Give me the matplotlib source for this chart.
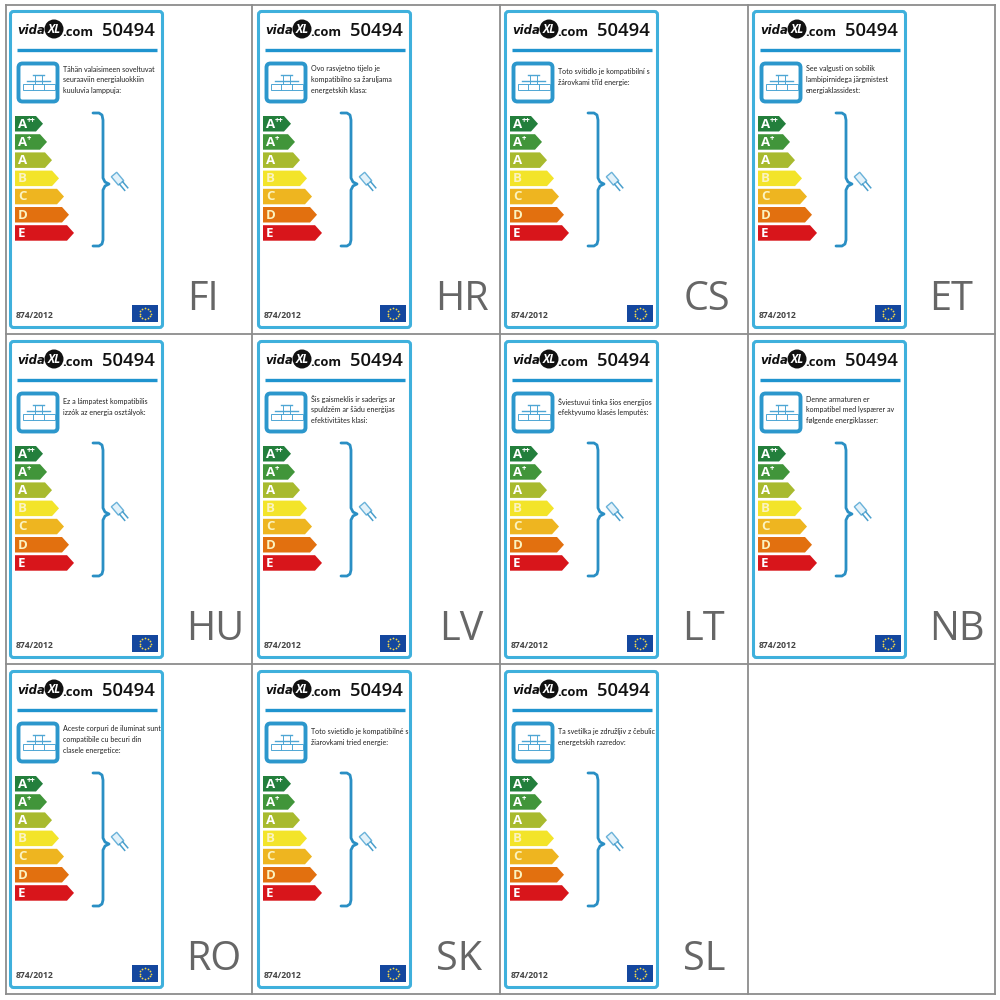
import numpy as np
import matplotlib
matplotlib.use('Agg')
import matplotlib.pyplot as plt
from matplotlib.patches import FancyBboxPatch, Polygon, Rectangle, Circle

# panel contents
languages = ['FI', 'HR', 'CS', 'ET', 'HU', 'LV', 'LT', 'NB', 'RO', 'SK', 'SL']
label_x = [203, 462, 707, 951, 215, 461, 703, 957, 214, 459, 704]
descriptions = [
    ['Tähän valaisimeen soveltuvat', 'seuraaviin energialuokkiin', 'kuuluvia lamppuja:'],
    ['Ovo rasvjetno tijelo je', 'kompatibilno sa žaruljama', 'energetskih klasa:'],
    ['Toto svítidlo je kompatibilní s', 'žárovkami tříd energie:'],
    ['See valgusti on sobilik', 'lambipirnidega järgmistest', 'energiaklassidest:'],
    ['Ez a lámpatest kompatibilis', 'izzók az energia osztályok:'],
    ['Šis gaismeklis ir saderīgs ar', 'spuldzēm ar šādu enerģijas', 'efektivitātes klasi:'],
    ['Šviestuvui tinka šios energijos', 'efektyvumo klasės lemputės:'],
    ['Denne armaturen er', 'kompatibel med lyspærer av', 'følgende energiklasser:'],
    ['Aceste corpuri de iluminat sunt', 'compatibile cu becuri din', 'clasele energetice:'],
    ['Toto svietidlo je kompatibilné s', 'žiarovkami tried energie:'],
    ['Ta svetilka je združljiv z čebulic', 'energetskih razredov:'],
]
model = '50494'
regulation = '874/2012'

# energy scale
classes = ['A', 'A', 'A', 'B', 'C', 'D', 'E']
class_marks = ['++', '+', '', '', '', '', '']
class_colors = ['#237f3c', '#41953a', '#a8ba2e', '#f3e42a', '#eeb520', '#e2700f', '#d8151b']
class_ends = [43, 47, 52, 59, 64, 69, 74]

col_dx = [0, 248, 495, 743]
row_dy = [0, 330, 660]
plt.rcParams['font.family'] = ['Open Sans', 'DejaVu Sans']

fig = plt.figure(figsize=(10, 10), dpi=100)
ax = fig.add_axes([0, 0, 1, 1])
ax.set_xlim(0, 1000)
ax.set_ylim(1000, 0)
ax.axis('off')

# grid around the panels
for x in [6, 252, 500, 748, 995]:
    ax.plot([x, x], [5, 994], color='#8c8c8c', lw=1.3, zorder=0.2)
for y in [5, 334, 664, 994]:
    ax.plot([6, 995], [y, y], color='#8c8c8c', lw=1.3, zorder=0.2)


def draw_icon(dx, dy):
    ax.add_patch(FancyBboxPatch((dx + 18.5, dy + 63.5), 39, 38, boxstyle='round,pad=0,rounding_size=4',
                                fc='white', ec='#2c97cc', lw=2.8, zorder=2))
    c = '#4ea6d4'
    ax.add_patch(Rectangle((dx + 23, dy + 84), 32, 6, fc='none', ec=c, lw=0.7, zorder=3))
    ax.plot([dx + 33, dx + 33], [dy + 84, dy + 90], color=c, lw=0.7, zorder=3)
    ax.plot([dx + 44, dx + 44], [dy + 84, dy + 90], color=c, lw=0.7, zorder=3)
    ax.plot([dx + 27, dx + 50], [dy + 81, dy + 81], color=c, lw=1.0, zorder=3)
    ax.plot([dx + 33, dx + 44], [dy + 75, dy + 75], color=c, lw=1.0, zorder=3)
    ax.plot([dx + 35, dx + 35], [dy + 75, dy + 84], color=c, lw=0.7, zorder=3)
    ax.plot([dx + 42, dx + 42], [dy + 75, dy + 84], color=c, lw=0.7, zorder=3)


def draw_scale(dx, dy):
    for i, (name, mark, color, end) in enumerate(zip(classes, class_marks, class_colors, class_ends)):
        top = dy + 116 + i * 18.2
        h = 15.5
        pts = [(dx + 15, top), (dx + end - 7, top), (dx + end, top + h / 2),
               (dx + end - 7, top + h), (dx + 15, top + h)]
        ax.add_patch(Polygon(pts, closed=True, fc=color, ec='none', zorder=2))
        txt = '#ffffff' if name in ('A', 'E') else '#fbf3c0'
        ax.text(dx + 18, top + h / 2 + 0.3, name, color=txt, fontsize=9.5, fontweight='bold',
                ha='left', va='center', zorder=4)
        if mark:
            ax.text(dx + 27, top + 4.5, mark, color='white', fontsize=5.5, fontweight='bold',
                    ha='left', va='center', zorder=4)


def draw_brace(dx, dy):
    ax.plot(dx + np.array([93, 99, 102, 103, 103, 105, 109, 105, 103, 103, 102, 99, 93]),
            dy + np.array([113, 113, 115, 120, 178, 182, 184, 186, 190, 240, 244, 246, 246]),
            color='#2a8fc4', lw=2.0, solid_capstyle='round', solid_joinstyle='round', zorder=2)
    # little lamp, turned 45 degrees
    t = np.radians(50)
    rot = np.array([[np.cos(t), -np.sin(t)], [np.sin(t), np.cos(t)]])
    origin = [dx + 114, dy + 174.5]
    body = np.array([[0, -3.5], [11, -3.5], [11, 3.5], [0, 3.5]]) @ rot.T + origin
    ax.add_patch(Polygon(body, closed=True, fc='#e3f2fa', ec='#6ab2d9', lw=1.0, zorder=2))
    for off in (-2, 2):
        pin = np.array([[11, off], [19, off]]) @ rot.T + origin
        ax.plot(pin[:, 0], pin[:, 1], color='#4a9fcc', lw=1.1, zorder=2)


def draw_footer(dx, dy):
    ax.text(dx + 16, dy + 316, regulation, fontsize=6.2, fontweight='bold', color='#444444',
            ha='left', va='center', zorder=4)
    ax.add_patch(Rectangle((dx + 132, dy + 305), 26, 17, fc='#14479e', ec='none', zorder=2))
    ang = np.arange(12) * np.pi / 6
    ax.scatter(dx + 145 + 5.5 * np.cos(ang), dy + 313.5 + 5.5 * np.sin(ang), s=1.6, color='#f2d84a',
               lw=0, zorder=3)


def draw_card(dx, dy, lang, lx, lines):
    card = FancyBboxPatch((dx + 10.5, dy + 11.5), 152, 316, boxstyle='round,pad=0,rounding_size=3',
                          fc='white', ec='#3fb0dc', lw=2.2, zorder=1)
    ax.add_patch(card)
    # logo
    ax.text(dx + 17, dy + 30, 'vida', fontsize=8.4, fontweight='bold', style='italic', color='#111111',
            ha='left', va='center', family='DejaVu Sans', zorder=4)
    ax.add_patch(Circle((dx + 54, dy + 29), 9.5, fc='#111111', ec='none', zorder=3))
    ax.text(dx + 54, dy + 29.5, 'XL', fontsize=8.5, fontweight='bold', style='italic', color='white',
            ha='center', va='center', zorder=4)
    ax.text(dx + 62, dy + 33, '.com', fontsize=9.3, fontweight='bold', color='#111111',
            ha='left', va='center', zorder=4)
    ax.text(dx + 155, dy + 31, model, fontsize=13.3, fontweight='semibold', color='#111111',
            ha='right', va='center', zorder=4)
    ax.plot([dx + 17, dx + 157], [dy + 49.5, dy + 49.5], color='#1f94cf', lw=2.4,
            solid_capstyle='butt', zorder=2)

    draw_icon(dx, dy)
    start = 69 if len(lines) == 3 else 71.5
    for i, line in enumerate(lines):
        t = ax.text(dx + 63, dy + start + i * 10.6, line, fontsize=5.1, color='#222222',
                    ha='left', va='center', family=['Lato', 'DejaVu Sans'], zorder=4, clip_on=True)
        t.set_clip_path(card)

    draw_scale(dx, dy)
    draw_brace(dx, dy)
    draw_footer(dx, dy)
    ax.text(lx, dy + 310, lang, fontsize=28.5, color='#666666', ha='center', va='baseline', zorder=4)


for n, lang in enumerate(languages):
    row, col = divmod(n, 4)
    draw_card(col_dx[col], row_dy[row], lang, label_x[n], descriptions[n])

fig.savefig('out.png', dpi=100, facecolor='white')
